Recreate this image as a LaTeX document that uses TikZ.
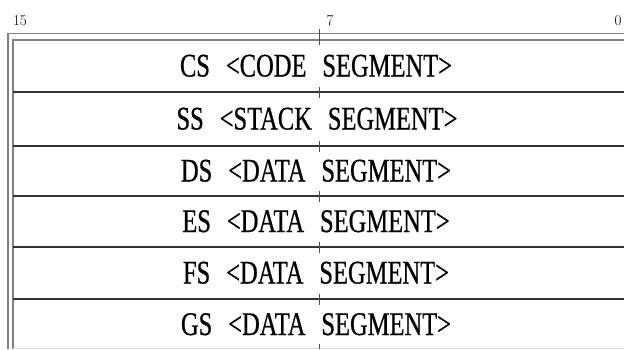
\documentclass[tikz,border=0pt]{standalone}
\usepackage{fontspec}
\newfontfamily\segfont[FakeStretch=0.743,WordSpace=2.6,FakeBold=0.6]{Liberation Serif}
\begin{document}
\begin{tikzpicture}[x=1pt,y=-1pt,
  frameline/.style={draw=black!50,line width=1.4pt},
  sepline/.style={draw=black!80,line width=1.1pt},
  tickline/.style={draw=black!70,line width=0.7pt},
  seglabel/.style={anchor=base,inner sep=0pt,font=\segfont\fontsize{33}{36}\selectfont},
  bitlabel/.style={anchor=base,inner sep=0pt,font=\fontsize{15}{17}\selectfont}]
\useasboundingbox (0,0) rectangle (624,349);
% bit labels
\node[bitlabel] (b15) at (20,25) {15};
\node[bitlabel] (b7) at (330,25) {7};
\node[bitlabel] (b0) at (618,25) {0};
% frame
\draw[frameline] (624,33.5) -- (8,33.5) -- (8,349);
\draw[frameline] (624,40) -- (13,40) -- (13,349);
\draw[draw=black!12,line width=0.8pt] (13,348.5) -- (624,348.5);
% separators
\foreach \y in {92,146,196,247,299}{
  \draw[sepline] (13,\y) -- (624,\y);
  \draw[tickline] (319,\y-5.5) -- (319,\y+5.5);
}
\draw[tickline] (319,29) -- (319,44.5);
\draw[tickline] (319,343.5) -- (319,349);
% rows
\node[seglabel] (cs) at (316,76.5) {CS <CODE SEGMENT>};
\node[seglabel] (ss) at (317,129.5) {SS <STACK SEGMENT>};
\node[seglabel] (ds) at (316,181.5) {DS <DATA SEGMENT>};
\node[seglabel] (es) at (316,232) {ES <DATA SEGMENT>};
\node[seglabel] (fs) at (316,283.5) {FS <DATA SEGMENT>};
\node[seglabel] (gs) at (316,335) {GS <DATA SEGMENT>};
\end{tikzpicture}
\end{document}
